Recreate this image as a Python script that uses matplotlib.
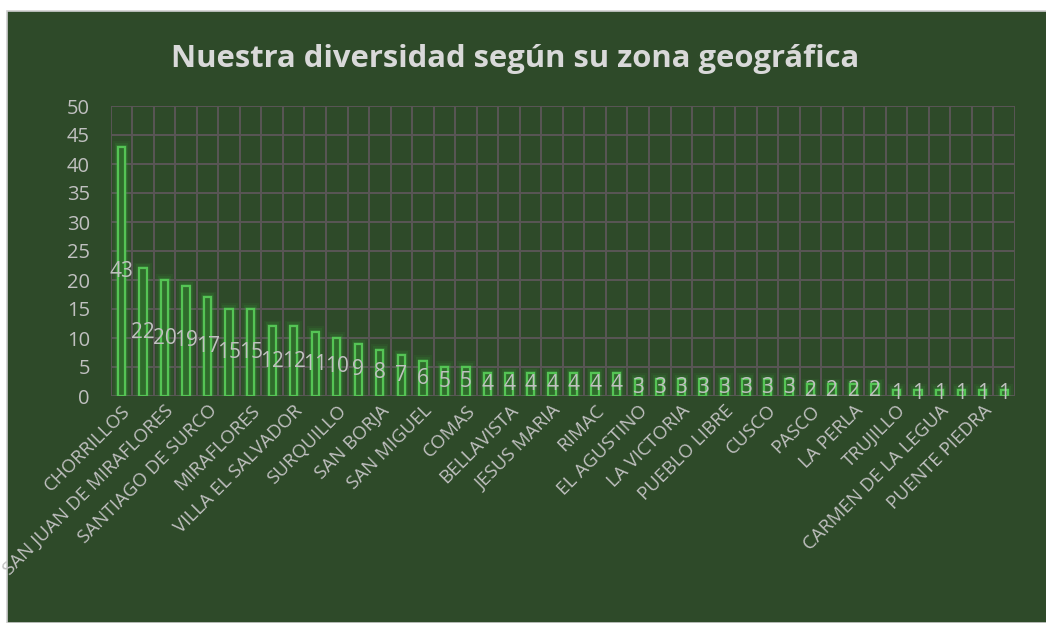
import matplotlib
matplotlib.use("Agg")
import matplotlib.pyplot as plt
from matplotlib.patches import Rectangle
import numpy as np

plt.rcParams["font.family"] = ["Open Sans", "DejaVu Sans"]

# every other district is labelled on the axis
shown_labels = [
    "CHORRILLOS", "SAN JUAN DE MIRAFLORES", "SANTIAGO DE SURCO", "MIRAFLORES",
    "VILLA EL SALVADOR", "SURQUILLO", "SAN BORJA", "SAN MIGUEL", "COMAS",
    "BELLAVISTA", "JESUS MARIA", "RIMAC", "EL AGUSTINO", "LA VICTORIA",
    "PUEBLO LIBRE", "CUSCO", "PASCO", "LA PERLA", "TRUJILLO",
    "CARMEN DE LA LEGUA", "PUENTE PIEDRA",
]
counts = [43, 22, 20, 19, 17, 15, 15, 12, 12, 11, 10, 9, 8, 7, 6, 5, 5,
          4, 4, 4, 4, 4, 4, 4,
          3, 3, 3, 3, 3, 3, 3, 3,
          2, 2, 2, 2,
          1, 1, 1, 1, 1, 1]
y_ticks = [0, 5, 10, 15, 20, 25, 30, 35, 40, 45, 50]

BG = "#2E4A29"
GRID = "#5A5656"
TEXT = "#C0C0C0"

fig = plt.figure(figsize=(10.46, 6.23), dpi=100, facecolor="white")
fig.patches.append(Rectangle((7 / 1046, 0), 1, 1 - 11 / 623, transform=fig.transFigure,
                             facecolor=BG, edgecolor="#D0D0D0", linewidth=1.2,
                             zorder=-10))

ax = fig.add_axes([110.7 / 1046, (623 - 396) / 623, 904.3 / 1046, 290 / 623])
ax.set_zorder(5)
ax.patch.set_alpha(0)

x = np.arange(len(counts))
# soft glow around each bar
for w, extra, a in [(0.8, 1.0, 0.08), (0.62, 0.7, 0.12), (0.48, 0.35, 0.18)]:
    ax.bar(x, np.array(counts) + extra, width=w, color="#3DBA3D", alpha=a,
           linewidth=0, zorder=2)
bars = ax.bar(x, counts, width=0.34, color="#2F6B2B", edgecolor="#55C455",
              linewidth=1.6, zorder=3)
ax.bar_label(bars, label_type="center", color=TEXT, fontsize=15, zorder=4)

ax.set_xlim(-0.5, len(counts) - 0.5)
ax.set_ylim(0, 50)
ax.set_yticks(y_ticks)
ax.set_xticks(x[::2], shown_labels, rotation=45, ha="right",
              rotation_mode="anchor")
ax.tick_params(axis="x", length=0, pad=4, labelsize=13.5, colors=TEXT)
ax.tick_params(axis="y", length=0, pad=15, labelsize=14.5, colors=TEXT)

for y in y_ticks:
    ax.axhline(y, color=GRID, linewidth=1.4, zorder=1)
for k in range(len(counts) + 1):
    ax.axvline(k - 0.5, color=GRID, linewidth=1.4, zorder=1)
for s in ax.spines.values():
    s.set_visible(False)

fig.text(0.4925, 0.905, "Nuestra diversidad según su zona geográfica",
         ha="center", va="center", fontsize=22.3, fontweight="bold", color="#D9D9D9")

fig.savefig("out.png", dpi=100, facecolor="white")
